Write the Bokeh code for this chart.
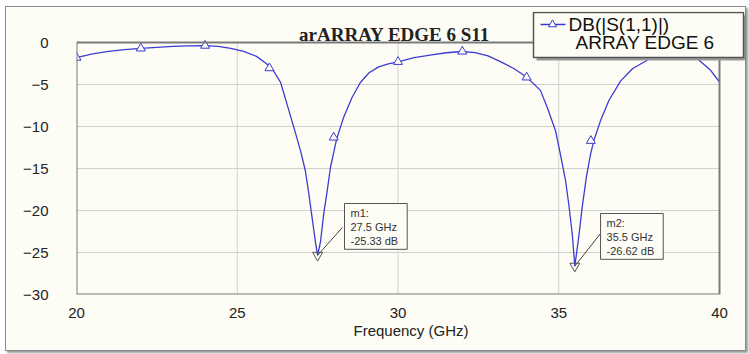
from bokeh.plotting import figure
from bokeh.models import Range1d, Label, FixedTicker
from bokeh.embed import file_html
from bokeh.resources import INLINE

# ---- data ----
freq_ghz = [20.0, 20.5, 21.0, 21.5, 22.0, 22.5, 23.0, 23.5, 24.0, 24.4, 24.8, 25.2,
            25.6, 25.9, 26.1, 26.35, 26.55, 26.76, 26.97, 27.12, 27.23, 27.33, 27.43,
            27.5, 27.59, 27.69, 27.8, 27.9, 28.0, 28.09, 28.31, 28.57, 28.83, 29.1,
            29.4, 29.7, 30.0, 30.5, 31.0, 31.5, 32.0, 32.4, 32.8, 33.2, 33.6, 34.0,
            34.43, 34.64, 34.9, 35.05, 35.21, 35.31, 35.42, 35.5, 35.62, 35.73, 35.86,
            35.99, 36.09, 36.3, 36.56, 36.92, 37.3, 37.85, 38.2, 38.6, 39.0, 39.3,
            39.7, 40.0]
s11_db = [-1.8, -1.35, -1.05, -0.85, -0.7, -0.57, -0.47, -0.4, -0.37, -0.45, -0.7, -1.05,
          -1.65, -2.5, -3.2, -4.76, -7.36, -10.1, -12.9, -15.3, -18.1, -20.9, -23.7,
          -25.33, -23.7, -20.4, -17.6, -14.85, -13.1, -11.5, -8.9, -6.55, -4.76, -3.6,
          -2.9, -2.55, -2.3, -1.8, -1.5, -1.22, -1.07, -1.2, -1.6, -2.3, -3.1, -4.1,
          -5.7, -7.7, -10.5, -13.3, -16.4, -19.2, -22.8, -26.62, -23.2, -19.6, -16.0,
          -13.3, -11.7, -9.3, -6.9, -4.6, -3.1, -1.9, -1.0, -0.7, -1.1, -1.9,
          -3.2, -4.7]
marker_freq = [20, 22, 24, 26, 28, 30, 32, 34, 36, 38]
marker_db = [-1.8, -0.7, -0.37, -3.05, -11.3, -2.3, -1.07, -4.15, -11.7, -0.9]
m_names = ["m1", "m2"]
m_freq = [27.5, 35.5]
m_db = [-25.33, -26.62]
x_ticks = [20, 25, 30, 35, 40]
y_ticks = [0, -5, -10, -15, -20, -25, -30]
title_text = "arARRAY EDGE 6 S11"
legend_lines = ["DB(|S(1,1)|)", "ARRAY EDGE 6"]
x_label = "Frequency (GHz)"

# ---- styling / layout ----
BG = "#fdfdf6"
BLUE = "#3b3bd4"
X0, X1 = x_ticks[0], x_ticks[-1]
Y0, Y1 = y_ticks[-1], y_ticks[0]
# page pixel geometry of the reference
ORG_X, ORG_Y = 6, 7                      # canvas origin on the page
W, H = 741, 345
PX_L, PX_R, PY_T, PY_B = 76, 719, 42, 294  # plot area (x 20..40, y 0..-30)
FR_R, FR_T = 745, 11                     # drawing frame extends to here


def gx(px):
    return X0 + (px - PX_L) * (X1 - X0) / (PX_R - PX_L)


def gy(py):
    return Y1 - (py - PY_T) * (Y1 - Y0) / (PY_B - PY_T)


box_dx = [0.836, 0.80]
box_dy = [6.16, 6.26]
lead_dx = [0.77, 0.80]
lead_dy = [3.31, 3.88]

p = figure(width=W, height=H, output_backend="svg", toolbar_location=None,
           x_range=Range1d(X0, gx(FR_R)), y_range=Range1d(Y0, gy(FR_T)),
           min_border_left=PX_L - ORG_X, min_border_right=ORG_X + W - FR_R,
           min_border_top=FR_T - ORG_Y, min_border_bottom=ORG_Y + H - PY_B,
           background_fill_color=BG, border_fill_color=BG)
p.styles = {"margin-left": "5px", "margin-top": "6px",
            "border": "1px solid #8a8a8a", "box-shadow": "2px 2px 2px #9a9a9a"}
p.outline_line_color = None
p.grid.visible = False

p.xaxis.ticker = FixedTicker(ticks=x_ticks)
p.yaxis.ticker = FixedTicker(ticks=y_ticks)
p.xaxis.bounds = (X0, X1)
p.yaxis.bounds = (Y0, Y1)
for ax in (p.xaxis, p.yaxis):
    ax.axis_line_color = None
    ax.major_tick_line_color = None
    ax.minor_tick_line_color = None
    ax.major_label_text_font = "Liberation Sans"
    ax.major_label_text_font_size = "15px"
    ax.major_label_text_color = "#222222"
p.xaxis.major_label_standoff = 7
p.yaxis.major_label_standoff = 22
p.xaxis.axis_label = x_label
p.xaxis.axis_label_text_font = "Liberation Sans"
p.xaxis.axis_label_text_font_style = "normal"
p.xaxis.axis_label_text_font_size = "15px"
p.xaxis.axis_label_text_color = "#222222"
p.xaxis.axis_label_standoff = 1

# grid lines
vx = x_ticks[1:-1]
p.segment(x0=vx, x1=vx, y0=[Y0] * len(vx), y1=[Y1] * len(vx),
          line_color="#d0d0d0", line_width=1)
hy = y_ticks[1:-1]
p.segment(x0=[X0] * len(hy), x1=[X1] * len(hy), y0=hy, y1=hy,
          line_color="#d0d0d0", line_width=1)

p.line(freq_ghz, s11_db, line_color=BLUE, line_width=1.3)
p.scatter(marker_freq, marker_db, marker="triangle", size=9,
          line_color=BLUE, fill_color=BG, line_width=1)

# plot-area border
p.quad(left=[X0], right=[X1], bottom=[Y0], top=[Y1], fill_color=None,
       line_color="#7a7a7a", line_width=2)

# markers m1/m2
p.scatter(m_freq, m_db, marker="inverted_triangle", size=10,
          line_color="#555555", fill_color=None, line_width=1)
p.segment(x0=m_freq, y0=m_db,
          x1=[f + d for f, d in zip(m_freq, lead_dx)],
          y1=[v + d for v, d in zip(m_db, lead_dy)],
          line_color="#444444", line_width=1)
for n, f, v, dx, dy in zip(m_names, m_freq, m_db, box_dx, box_dy):
    txt = f"{n}:\n{f} GHz\n{v:.2f} dB"
    common = dict(x=f + dx, y=v + dy, text=txt, anchor="top_left",
                  text_font="Liberation Sans", text_font_size="11px",
                  padding=dict(left=6, right=9, top=3, bottom=2))
    p.add_layout(Label(**common, text_alpha=0, background_fill_color="#9a9a9a",
                       x_offset=3, y_offset=-3))
    p.add_layout(Label(**common, text_color="#333333", background_fill_color=BG,
                       border_line_color="#555555", border_line_width=1))

# title
p.add_layout(Label(x=gx(394), y=gy(34), text=title_text, text_align="center",
                   text_baseline="alphabetic", text_font="Liberation Serif",
                   text_font_style="bold", text_font_size="19px",
                   text_color="#222222"))

# legend box (drawn by hand so it can overlap the top of the plot area)
p.quad(left=[gx(536)], right=[gx(748)], top=[gy(15)], bottom=[gy(60)],
       fill_color="#9a9a9a", line_color=None)
p.quad(left=[gx(533)], right=[gx(743)], top=[gy(12)], bottom=[gy(57)],
       fill_color=BG, line_color="#555555", line_width=1.5)
p.line([gx(540), gx(565)], [gy(24), gy(24)], line_color=BLUE, line_width=1.3)
p.scatter([gx(552)], [gy(24)], marker="triangle", size=8, line_color=BLUE,
          fill_color=BG, line_width=1)
for txt, px, py in zip(legend_lines, [568, 575], [24, 42]):
    p.add_layout(Label(x=gx(px), y=gy(py), text=txt, text_align="left",
                       text_baseline="middle", text_font="Liberation Sans",
                       text_font_size="19px", text_color="#111111"))

open("out.html", "w").write(file_html(p, INLINE))
